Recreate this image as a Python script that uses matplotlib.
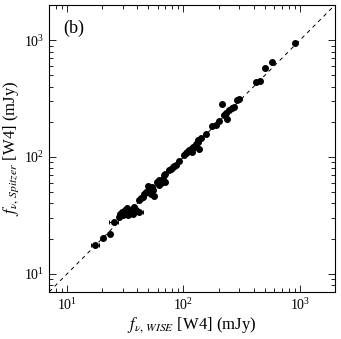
import numpy as np
import matplotlib
matplotlib.use('Agg')
import matplotlib.pyplot as plt
from matplotlib.ticker import LogLocator, NullFormatter

plt.rcParams.update({
    'font.family': ['Liberation Serif', 'DejaVu Serif'],
    'mathtext.fontset': 'stix',
    'xtick.direction': 'in',
    'ytick.direction': 'in',
    'xtick.top': True,
    'ytick.right': True,
})

# WISE W4 flux (mJy)
f_wise = [17.5, 20.5, 23.5, 25.1, 28.1, 28.6, 29.6, 30.4, 31.6, 32.5,
          33.1, 34.2, 35.4, 36.5, 37.8, 39.0, 37.0, 41.7, 41.7, 43.1,
          44.5, 46.0, 47.5, 49.1, 50.1, 51.4, 53.5, 55.0, 56.1, 52.5,
          59.8, 61.1, 61.8, 63.9, 66.1, 67.4, 69.2, 69.7, 75.4, 77.9,
          80.5, 83.2, 85.9, 91.8, 101, 105, 108, 112, 116, 118,
          121, 123, 128, 132, 134, 136, 141, 155, 177, 189,
          202, 213, 223, 231, 238, 246, 263, 272, 290, 300,
          417, 451, 501, 580, 906]
# Spitzer MIPS 24um flux (mJy)
f_spitzer = [17.7, 20.4, 22.0, 27.7, 30.6, 32.7, 33.8, 32.0, 34.9, 36.8,
             31.6, 35.4, 34.4, 36.1, 37.3, 34.9, 32.7, 33.8, 42.5, 44.8,
             45.4, 48.5, 50.1, 56.8, 50.1, 53.5, 55.3, 51.8, 46.0, 48.5,
             61.1, 57.2, 63.1, 59.8, 65.2, 69.7, 71.9, 61.1, 76.9, 79.4,
             82.1, 83.2, 84.8, 91.8, 105, 108, 110, 114, 118, 110,
             122, 123, 128, 134, 141, 118, 146, 158, 183, 187,
             204, 283, 228, 238, 213, 251, 265, 268, 306, 316,
             440, 446, 583, 647, 949]
# fractional x errors (only visible for the faint ones)
xerr_frac = np.zeros(len(f_wise))
xerr_frac[[0, 3, 17]] = 0.08

f_wise = np.array(f_wise)
f_spitzer = np.array(f_spitzer)

fig = plt.figure(figsize=(3.41, 3.39), dpi=100)
ax = fig.add_axes([0.144, 0.139, 0.838, 0.846])

lims = [7, 2000]
ax.plot(lims, lims, color='black', linestyle=(0, (4, 4)), linewidth=0.7)
ax.errorbar(f_wise, f_spitzer, xerr=f_wise * xerr_frac, fmt='o', color='black',
            markersize=4, elinewidth=0.7, capsize=1.5, capthick=0.7)

ax.set_xscale('log')
ax.set_yscale('log')
ax.set_xlim(lims)
ax.set_ylim(lims)

for axis in (ax.xaxis, ax.yaxis):
    axis.set_minor_locator(LogLocator(base=10, subs=np.arange(2, 10)))
    axis.set_minor_formatter(NullFormatter())
ax.tick_params(which='major', length=5, width=0.6, labelsize=10)
ax.tick_params(which='minor', length=3, width=0.6)
for s in ax.spines.values():
    s.set_linewidth(0.8)

ax.set_xlabel(r'$f_{\nu,\,WISE}$ [W4] (mJy)', fontsize=12, labelpad=2)
ax.set_ylabel(r'$f_{\nu,\,Spitzer}$ [W4] (mJy)', fontsize=12, labelpad=2)
ax.text(0.05, 0.92, '(b)', transform=ax.transAxes, fontsize=13,
        ha='left', va='center')

fig.savefig('out.png', dpi=100)
